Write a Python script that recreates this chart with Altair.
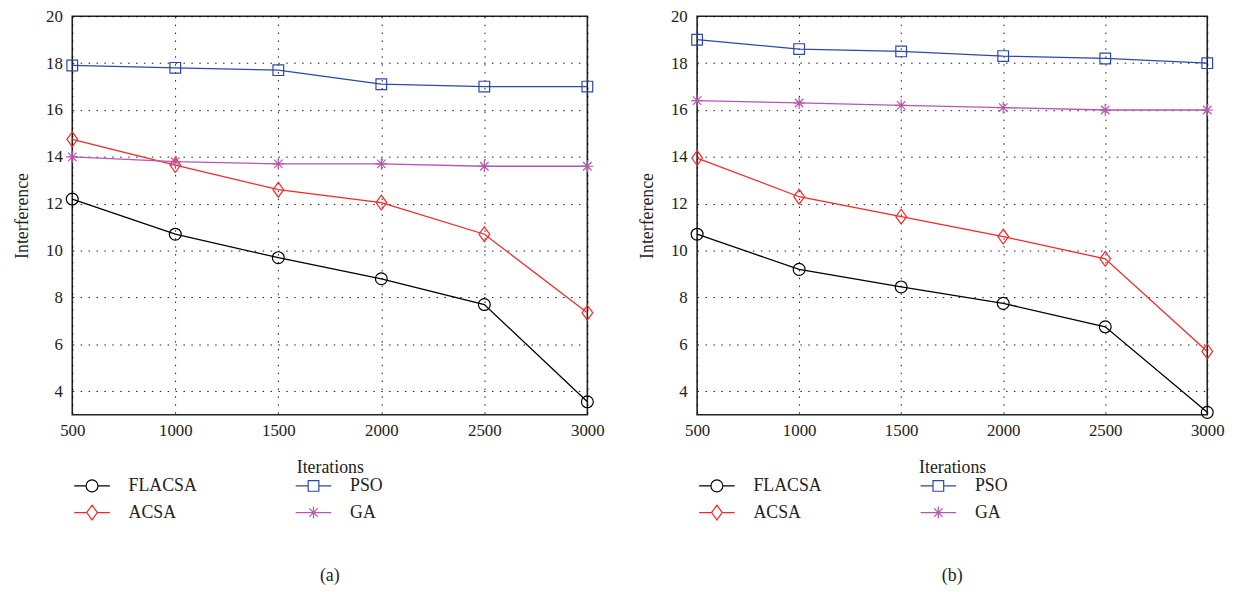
import altair as alt
import pandas as pd

iterations = [500, 1000, 1500, 2000, 2500, 3000]
series = ["FLACSA", "ACSA", "PSO", "GA"]

a_flacsa = [12.2, 10.7, 9.7, 8.8, 7.7, 3.55]
a_acsa = [14.75, 13.65, 12.6, 12.05, 10.7, 7.35]
a_pso = [17.9, 17.8, 17.7, 17.1, 17.0, 17.0]
a_ga = [14.0, 13.8, 13.7, 13.7, 13.6, 13.6]

b_flacsa = [10.7, 9.2, 8.45, 7.75, 6.75, 3.1]
b_acsa = [13.95, 12.3, 11.45, 10.6, 9.65, 5.7]
b_pso = [19.0, 18.6, 18.5, 18.3, 18.2, 18.0]
b_ga = [16.4, 16.3, 16.2, 16.1, 16.0, 16.0]

colors = ["#000000", "#FF2424", "#2B47B0", "#B556B0"]

FONT = "Liberation Serif"

marker_paths = [
    "M-0.8,0A0.8,0.8,0,1,0,0.8,0A0.8,0.8,0,1,0,-0.8,0Z",
    "M0,-1L0.72,0L0,1L-0.72,0Z",
    "M-0.72,-0.72L0.72,-0.72L0.72,0.72L-0.72,0.72Z",
    "M-0.8,0L0.8,0M0,-0.8L0,0.8M-0.57,-0.57L0.57,0.57M-0.57,0.57L0.57,-0.57",
]
legend_paths = [
    "M-2,0L-0.667,0M0.667,0L2,0M-0.667,0A0.667,0.667,0,1,0,0.667,0A0.667,0.667,0,1,0,-0.667,0Z",
    "M-2,0L-0.6,0M0.6,0L2,0M0,-0.83L0.6,0L0,0.83L-0.6,0Z",
    "M-2,0L-0.6,0M0.6,0L2,0M-0.6,-0.6L0.6,-0.6L0.6,0.6L-0.6,0.6Z",
    "M-2,0L2,0M0,-0.67L0,0.67M-0.48,-0.48L0.48,0.48M-0.48,0.48L0.48,-0.48",
]
legend_order = ["FLACSA", "ACSA", "PSO", "GA"]


def make_df(vals):
    rows = []
    for name, ys in zip(series, vals):
        for x, y in zip(iterations, ys):
            rows.append({"Iterations": x, "Interference": y, "series": name})
    return pd.DataFrame(rows)


def panel(vals, caption, w):
    df = make_df(vals)
    x = alt.X("Iterations:Q", scale=alt.Scale(domain=[500, 3000], nice=False),
              axis=alt.Axis(values=iterations, title="Iterations", format="d"))
    y = alt.Y("Interference:Q", scale=alt.Scale(domain=[3, 20], nice=False),
              axis=alt.Axis(values=list(range(4, 21, 2)), title="Interference"))
    col = alt.Color("series:N", scale=alt.Scale(domain=series, range=colors), legend=None)
    base = alt.Chart(df)
    lines = base.mark_line(strokeWidth=1.3).encode(x=x, y=y, color=col, detail="series:N")
    points = base.mark_point(filled=False, size=225, strokeWidth=1.2, opacity=1).encode(
        x=x, y=y, color=col,
        shape=alt.Shape("series:N", scale=alt.Scale(domain=series, range=marker_paths), legend=None),
    )
    leg_colors = [colors[series.index(s)] for s in legend_order]
    leg_paths = [legend_paths[series.index(s)] for s in legend_order]
    legend_layer = base.transform_filter("false").mark_point(filled=False, size=324, opacity=1).encode(
        x=x, y=y,
        color=alt.Color("series:N", scale=alt.Scale(domain=legend_order, range=leg_colors),
                        legend=alt.Legend(title=None)),
        shape=alt.Shape("series:N", scale=alt.Scale(domain=legend_order, range=leg_paths),
                        legend=alt.Legend(title=None)),
    )
    return alt.layer(lines, points, legend_layer).resolve_scale(
        color="independent", shape="independent"
    ).properties(
        width=w, height=403,
        title=alt.TitleParams(caption, orient="bottom", anchor="middle", fontSize=18,
                              font=FONT, fontWeight="normal", color="#222", offset=45),
    )


chart = alt.hconcat(
    panel([a_flacsa, a_acsa, a_pso, a_ga], "(a)", 521),
    panel([b_flacsa, b_acsa, b_pso, b_ga], "(b)", 516),
    spacing=33,
).properties(
    background="white", padding={"left": 5, "top": -5, "right": 5, "bottom": 5}
).configure_view(
    stroke="#222", strokeWidth=1.6
).configure_axis(
    labelFont=FONT, titleFont=FONT, labelFontSize=17, titleFontSize=18,
    labelColor="#222", titleColor="#222", titleFontWeight="normal",
    grid=True, gridColor="#000", gridDash=[1.5, 6.5], gridWidth=1, gridOpacity=0.9,
    ticks=False, domain=False, labelFlush=False,
).configure_axisY(
    titlePadding=14, labelPadding=10,
).configure_axisX(
    titlePadding=20, labelPadding=8,
).configure_legend(
    orient="none", legendX=10, legendY=465, columns=2, columnPadding=96,
    direction="vertical",
    rowPadding=8, labelFont=FONT, labelFontSize=18, labelColor="#222",
    labelOffset=27, symbolSize=324, symbolStrokeWidth=1.2,
)

chart.save("out.html", embed_options={"renderer": "svg", "actions": False})
